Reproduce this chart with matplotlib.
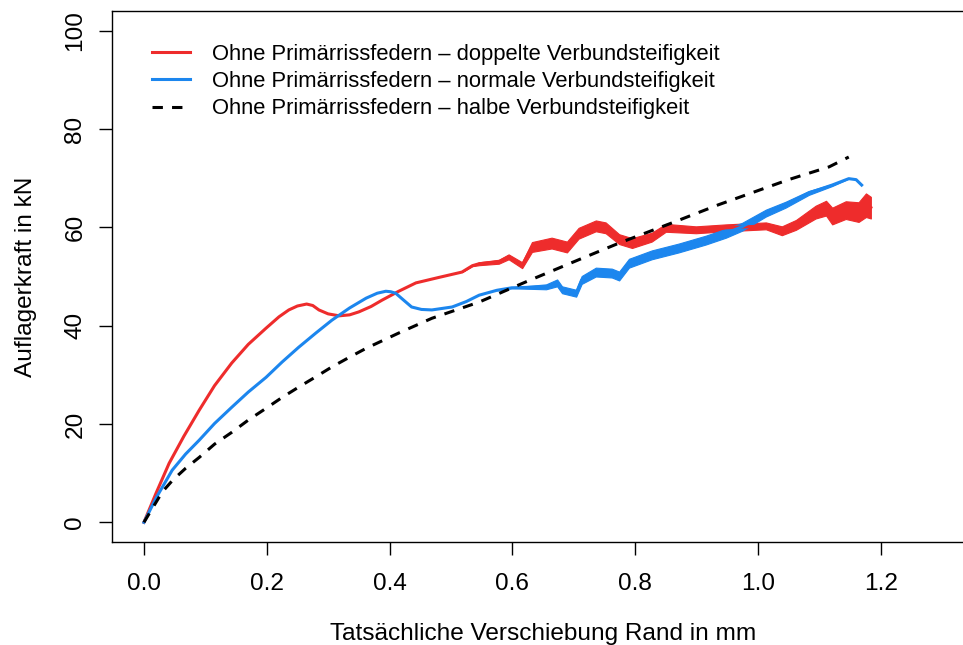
import matplotlib
matplotlib.use("Agg")
import matplotlib.pyplot as plt
import numpy as np

plt.rcParams['font.family'] = ['Liberation Sans', 'DejaVu Sans']

# ---- data ----
x_red = [0, 0.020, 0.041, 0.065, 0.090, 0.115, 0.143, 0.170, 0.199, 0.220, 0.236, 0.250, 0.265,
         0.275, 0.285, 0.300, 0.318, 0.335, 0.350, 0.370, 0.388, 0.415, 0.443, 0.480,
         0.518, 0.535, 0.546, 0.578, 0.594, 0.616, 0.632, 0.664, 0.689, 0.708, 0.736, 0.752,
         0.774, 0.795, 0.827, 0.850, 0.899, 0.948, 1.013, 1.039, 1.062, 1.094, 1.111, 1.121,
         1.143, 1.164, 1.176, 1.184]
y_red = [0, 6.0, 12.0, 17.5, 22.8, 27.8, 32.4, 36.2, 39.5, 41.8, 43.2, 44.0, 44.4,
         44.1, 43.2, 42.4, 42.0, 42.2, 42.8, 43.9, 45.2, 47.0, 48.7, 49.8,
         50.9, 52.2, 52.6, 53.0, 54.0, 52.3, 56.0, 56.8, 56.0, 58.8, 60.3, 59.9,
         57.6, 56.8, 58.0, 59.9, 59.5, 59.9, 60.3, 59.3, 60.5, 63.1, 63.9, 62.3,
         63.5, 63.1, 64.5, 64.0]
band_red = [0, 0, 0, 0, 0, 0, 0, 0, 0, 0, 0, 0, 0,
            0, 0, 0, 0, 0, 0, 0, 0, 0, 0, 0,
            0, 0.1, 0.3, 0.4, 0.5, 0.6, 1.0, 1.1, 1.1, 1.1, 1.1, 1.1,
            1.0, 1.0, 0.9, 0.8, 0.7, 0.7, 0.7, 0.9, 1.0, 1.3, 1.5, 1.7,
            1.8, 2.0, 2.4, 2.2]

x_blue = [0, 0.020, 0.046, 0.068, 0.090, 0.115, 0.143, 0.170, 0.199, 0.225, 0.252, 0.280,
          0.306, 0.335, 0.362, 0.380, 0.394, 0.402, 0.410, 0.422, 0.436, 0.452,
          0.469, 0.502, 0.525, 0.546, 0.575, 0.599, 0.655, 0.673, 0.681, 0.704, 0.713, 0.736,
          0.762, 0.774, 0.790, 0.827, 0.871, 0.915, 0.948, 0.974, 1.013, 1.045, 1.083, 1.121,
          1.148, 1.160, 1.169]
y_blue = [0, 5.0, 10.6, 13.9, 16.7, 20.1, 23.4, 26.5, 29.5, 32.6, 35.6, 38.5,
          41.1, 43.6, 45.6, 46.6, 47.0, 46.9, 46.6, 45.3, 43.8, 43.3,
          43.2, 43.8, 44.9, 46.2, 47.2, 47.7, 47.9, 48.7, 47.3, 46.6, 49.3, 50.9,
          50.7, 50.1, 52.7, 54.4, 55.8, 57.4, 58.8, 60.1, 62.9, 64.6, 67.0, 68.6,
          69.9, 69.7, 68.6]
band_blue = [0, 0, 0, 0, 0, 0, 0, 0, 0, 0, 0, 0,
             0, 0, 0, 0, 0, 0, 0, 0, 0, 0,
             0, 0, 0, 0, 0, 0.1, 0.5, 0.7, 0.7, 0.7, 0.8, 0.9,
             0.9, 0.9, 0.9, 0.9, 0.9, 0.9, 0.9, 0.8, 0.7, 0.6, 0.4, 0.2,
             0, 0, 0]

x_black = [0, 0.015, 0.030, 0.047, 0.068, 0.090, 0.115, 0.143, 0.170, 0.199, 0.225, 0.252,
           0.280, 0.306, 0.335, 0.362, 0.415, 0.469, 0.546,
           0.622, 0.708, 0.774, 0.860, 0.936, 1.050, 1.116, 1.148]
y_black = [0, 3.1, 6.2, 8.6, 11.0, 13.2, 15.9, 18.3, 20.8, 23.2, 25.4, 27.5,
           29.6, 31.6, 33.6, 35.4, 38.5, 41.5, 44.8,
           48.9, 53.4, 56.8, 60.9, 64.6, 69.7, 72.3, 74.3]

labels = ["Ohne Primärrissfedern – doppelte Verbundsteifigkeit",
          "Ohne Primärrissfedern – normale Verbundsteifigkeit",
          "Ohne Primärrissfedern – halbe Verbundsteifigkeit"]
x_ticks = [0.0, 0.2, 0.4, 0.6, 0.8, 1.0, 1.2]
y_ticks = [0, 20, 40, 60, 80, 100]

RED = "#EE2C2C"
BLUE = "#1C86EE"

W, H = 963, 645
fig = plt.figure(figsize=(W / 100, H / 100), dpi=100)
left, right, top, bottom = 112, 974, 11, 542
ax = fig.add_axes([left / W, (H - bottom) / H, (right - left) / W, (bottom - top) / H])

lw = 2.2
xr, yr, br = map(np.asarray, (x_red, y_red, band_red))
xb, yb, bb = map(np.asarray, (x_blue, y_blue, band_blue))

ax.plot(x_red, y_red, color=RED, lw=lw, label=labels[0], solid_joinstyle='round')
ax.fill_between(xr, yr - br, yr + br, where=br > 0, color=RED, lw=0.8, edgecolor=RED, interpolate=True)
ax.plot(x_blue, y_blue, color=BLUE, lw=lw, label=labels[1], solid_joinstyle='round')
ax.fill_between(xb, yb - bb, yb + bb, where=bb > 0, color=BLUE, lw=0.8, edgecolor=BLUE, interpolate=True)
ax.plot(x_black, y_black, color="black", lw=lw, dashes=(3.4, 3.0), label=labels[2])

ax.set_xlim(-0.052, 1.352)
ax.set_ylim(-4, 104)
ax.set_xticks(x_ticks)
ax.set_xticklabels([f"{v:.1f}" for v in x_ticks])
ax.set_yticks(y_ticks)
ax.set_yticklabels([str(v) for v in y_ticks], rotation=90, va='center')
ax.tick_params(axis='both', direction='out', length=9.5, width=1.0, labelsize=17.6)
ax.tick_params(axis='x', pad=13)
ax.tick_params(axis='y', pad=9)
for s in ax.spines.values():
    s.set_linewidth(1.0)
ax.spines['right'].set_visible(False)

ax.set_xlabel("Tatsächliche Verschiebung Rand in mm", fontsize=17.6, labelpad=20)
ax.set_ylabel("Auflagerkraft in kN", fontsize=17.6, labelpad=20)

leg = ax.legend(loc='upper left', bbox_to_anchor=(152 / W, 1 - 44 / H), bbox_transform=fig.transFigure,
                frameon=False, fontsize=15.8, handlelength=1.73, handletextpad=1.0,
                labelspacing=0.28, borderaxespad=0, borderpad=0)

fig.savefig("out.png", dpi=100)
